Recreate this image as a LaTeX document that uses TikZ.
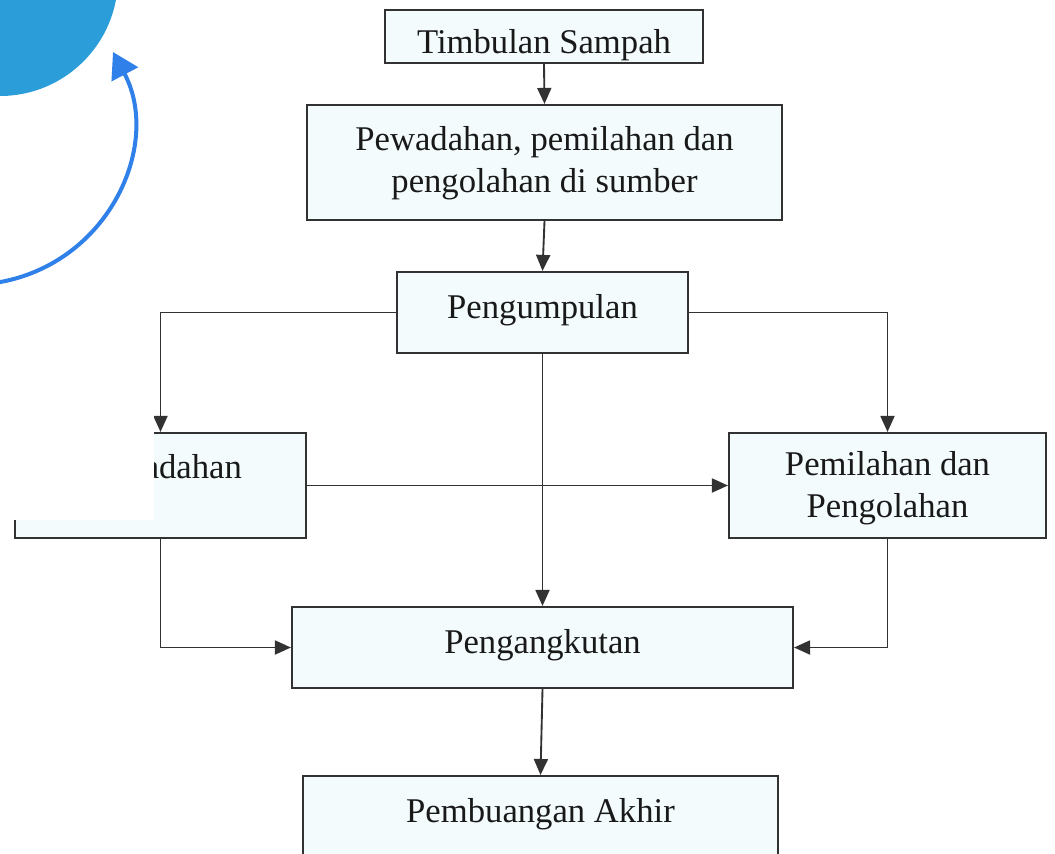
\documentclass[tikz,border=0pt]{standalone}
\usepackage{fontspec}
\setmainfont{Liberation Serif}
\usetikzlibrary{arrows.meta}
\definecolor{boxfill}{RGB}{243,251,253}
\definecolor{boxline}{RGB}{50,50,50}
\definecolor{txtcol}{RGB}{25,25,25}
\definecolor{circblue}{RGB}{43,157,217}
\definecolor{arrblue}{RGB}{47,128,232}
\tikzset{
  flowbox/.style={draw=boxline, fill=boxfill, line width=1.6pt, rectangle, inner sep=0pt},
  lbl/.style={text=txtcol, anchor=base, inner sep=0pt, font=\fontsize{26}{31.5}\selectfont, align=center},
  conn/.style={draw=boxline, line width=1.4pt, -{Triangle[length=12pt,width=10.5pt]}}
}
\begin{document}
\begin{tikzpicture}[x=0.75pt,y=-0.75pt]
\clip (0,0) rectangle (1055,853);
\fill[white] (0,0) rectangle (1055,853);
% boxes
\node[flowbox, minimum width=238.5pt, minimum height=39.75pt] (ts) at (544,36.5) {};
\node[flowbox, minimum width=356.25pt, minimum height=86.25pt] (pw) at (544.5,162.5) {};
\node[flowbox, minimum width=218.25pt, minimum height=60.75pt] (pg) at (542.5,312.5) {};
\node[flowbox, minimum width=218.25pt, minimum height=78.75pt] (lb) at (160.5,485.5) {};
\node[flowbox, minimum width=237.75pt, minimum height=78.75pt] (rb) at (887.5,485.5) {};
\node[flowbox, minimum width=375.75pt, minimum height=60.75pt] (pk) at (542.5,647.5) {};
\node[flowbox, minimum width=356.25pt, minimum height=75pt, anchor=north] (pa) at (540.5,775) {};
% labels (base = baseline of last line)
\node[lbl] (tst) at (544,53) {Timbulan Sampah};
\node[lbl] (pwt) at (544.5,192) {Pewadahan, pemilahan dan\\pengolahan di sumber};
\node[lbl] (pgt) at (542.5,318) {Pengumpulan};
\node[lbl] (lbt) at (163,478) {Pewadahan};
\node[lbl] (rbt) at (887.5,517) {Pemilahan dan\\Pengolahan};
\node[lbl] (pkt) at (542.5,653) {Pengangkutan};
\node[lbl] (pat) at (540.5,822) {Pembuangan Akhir};
% connectors
\draw[conn] (ts.south) -- (pw.north);
\draw[conn] (pw.south) -- (pg.north);
\draw[conn] (pg.west) -| (lb.north);
\draw[conn] (pg.east) -| (rb.north);
\draw[conn] (pg.south) -- (pk.north);
\draw[conn] (lb.east) -- (rb.west);
\draw[conn] (lb.south) |- (pk.west);
\draw[conn] (rb.south) |- (pk.east);
\draw[conn] (pk.south) -- (pa.north);
% overlay
\fill[white] (0,0) rectangle (154,520);
\fill[circblue] (0,-22) circle[radius=88.5pt];
\coordinate (as) at (-30,285);
\coordinate (ae) at (113,52);
\draw[arrblue, line width=3pt, -{Triangle[length=19pt,width=22pt]}] (as) .. controls (100,283) and (165,150) .. (ae);
\end{tikzpicture}
\end{document}
